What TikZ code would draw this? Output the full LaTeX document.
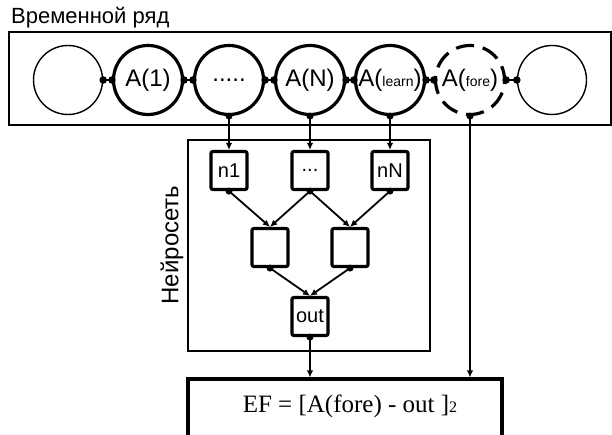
\documentclass[tikz,border=0pt]{standalone}
\usepackage{fontspec}
\setmainfont{Liberation Sans}
\newfontfamily\efserif{Liberation Serif}
\usetikzlibrary{arrows.meta}
\begin{document}
\begin{tikzpicture}[x=1pt,y=-1pt,
  big/.style={font=\fontsize{22}{26}\selectfont},
  frame/.style={draw, line width=1.3pt, inner sep=0pt},
  thincirc/.style={circle, draw, line width=1.4pt, minimum size=69pt, inner sep=0pt},
  thickcirc/.style={circle, draw, line width=3.2pt, minimum size=69pt, inner sep=0pt, font=\fontsize{24}{28}\selectfont},
  dashcirc/.style={thickcirc, dash pattern=on 18.1pt off 9pt, dash phase=4pt},
  nbox/.style={draw, line width=3.2pt, rounded corners=2pt, minimum width=36pt, minimum height=38pt, inner sep=0pt, font=\fontsize{20}{24}\selectfont},
  link/.style={line width=2pt},
  arr/.style={line width=1.8pt, -{Latex[length=7pt,width=6.5pt]}},
  dot/.style={fill=black}
]
\clip (0,0) rectangle (612,435);
\fill[white] (0,0) rectangle (612,435);

% title and time-series frame
\node[big, anchor=base west, inner sep=0pt] (title) at (11,24) {Временной ряд};
\node[frame, minimum width=602pt, minimum height=93pt] (ts) at (310,78.5) {};

% circles
\node[thincirc]  (c0) at (68,80)  {};
\node[thickcirc] (c1) at (148,80) {A(1)};
\node[thickcirc] (c2) at (229,80) {.....};
\node[thickcirc] (c3) at (310,80) {A(N)};
\node[thickcirc] (c4) at (390,80) {A({\fontsize{14}{16}\selectfont learn})};
\node[dashcirc]  (c5) at (470,80) {A({\fontsize{14}{16}\selectfont fore})};
\node[thincirc]  (c6) at (552,80) {};

% links between circles
\foreach \a/\b in {c0/c1,c1/c2,c2/c3,c3/c4,c4/c5,c5/c6}{
  \draw[link] (\a.east) -- (\b.west);
  \fill[dot] (\a.east) circle (3.8pt);
  \fill[dot] (\b.west) circle (3.8pt);
}

% neural network frame
\node[frame, line width=1.2pt, minimum width=242pt, minimum height=211pt] (nn) at (309,245.5) {};
\node[rotate=90, inner sep=0pt, font=\fontsize{24}{28}\selectfont] (nnlab) at (172,245) {Нейросеть};

% boxes
\node[nbox] (n1) at (229,170.5) {n1};
\node[nbox] (nd) at (310,170.5) {...};
\node[nbox] (nN) at (390,170.5) {nN};
\node[nbox] (m1) at (270,247.5) {};
\node[nbox] (m2) at (350,247.5) {};
\node[nbox] (out) at (310,316.5) {out};

% error box
\node[draw, line width=3.2pt, minimum width=314pt, minimum height=80pt, inner sep=0pt] (ef) at (345,419) {};
\node[inner sep=0pt, font=\efserif\fontsize{25}{29}\selectfont] (eft) at (350,406) {EF = [A(fore) - out ]{\fontsize{16}{18}\selectfont 2}};

% connectors from series to network
\draw[arr] (c2.south) -- (n1.north);
\draw[arr] (c3.south) -- (nd.north);
\draw[arr] (c4.south) -- (nN.north);
\draw[arr] (c5.south) -- (c5.south |- ef.north);
\foreach \c in {c2,c3,c4,c5}{ \fill[dot] (\c.south) circle (3.5pt); }

% inside network
\draw[arr] (n1.south) -- (m1.north);
\draw[arr] (nd.south) -- (m1.north);
\draw[arr] (nd.south) -- (m2.north);
\draw[arr] (nN.south) -- (m2.north);
\draw[arr] (m1.south) -- (out.north);
\draw[arr] (m2.south) -- (out.north);
\draw[arr] (out.south) -- (out.south |- ef.north);
\foreach \c in {n1,nd,nN,m1,m2,out}{ \fill[dot] (\c.south) circle (3.5pt); }
\end{tikzpicture}
\end{document}
